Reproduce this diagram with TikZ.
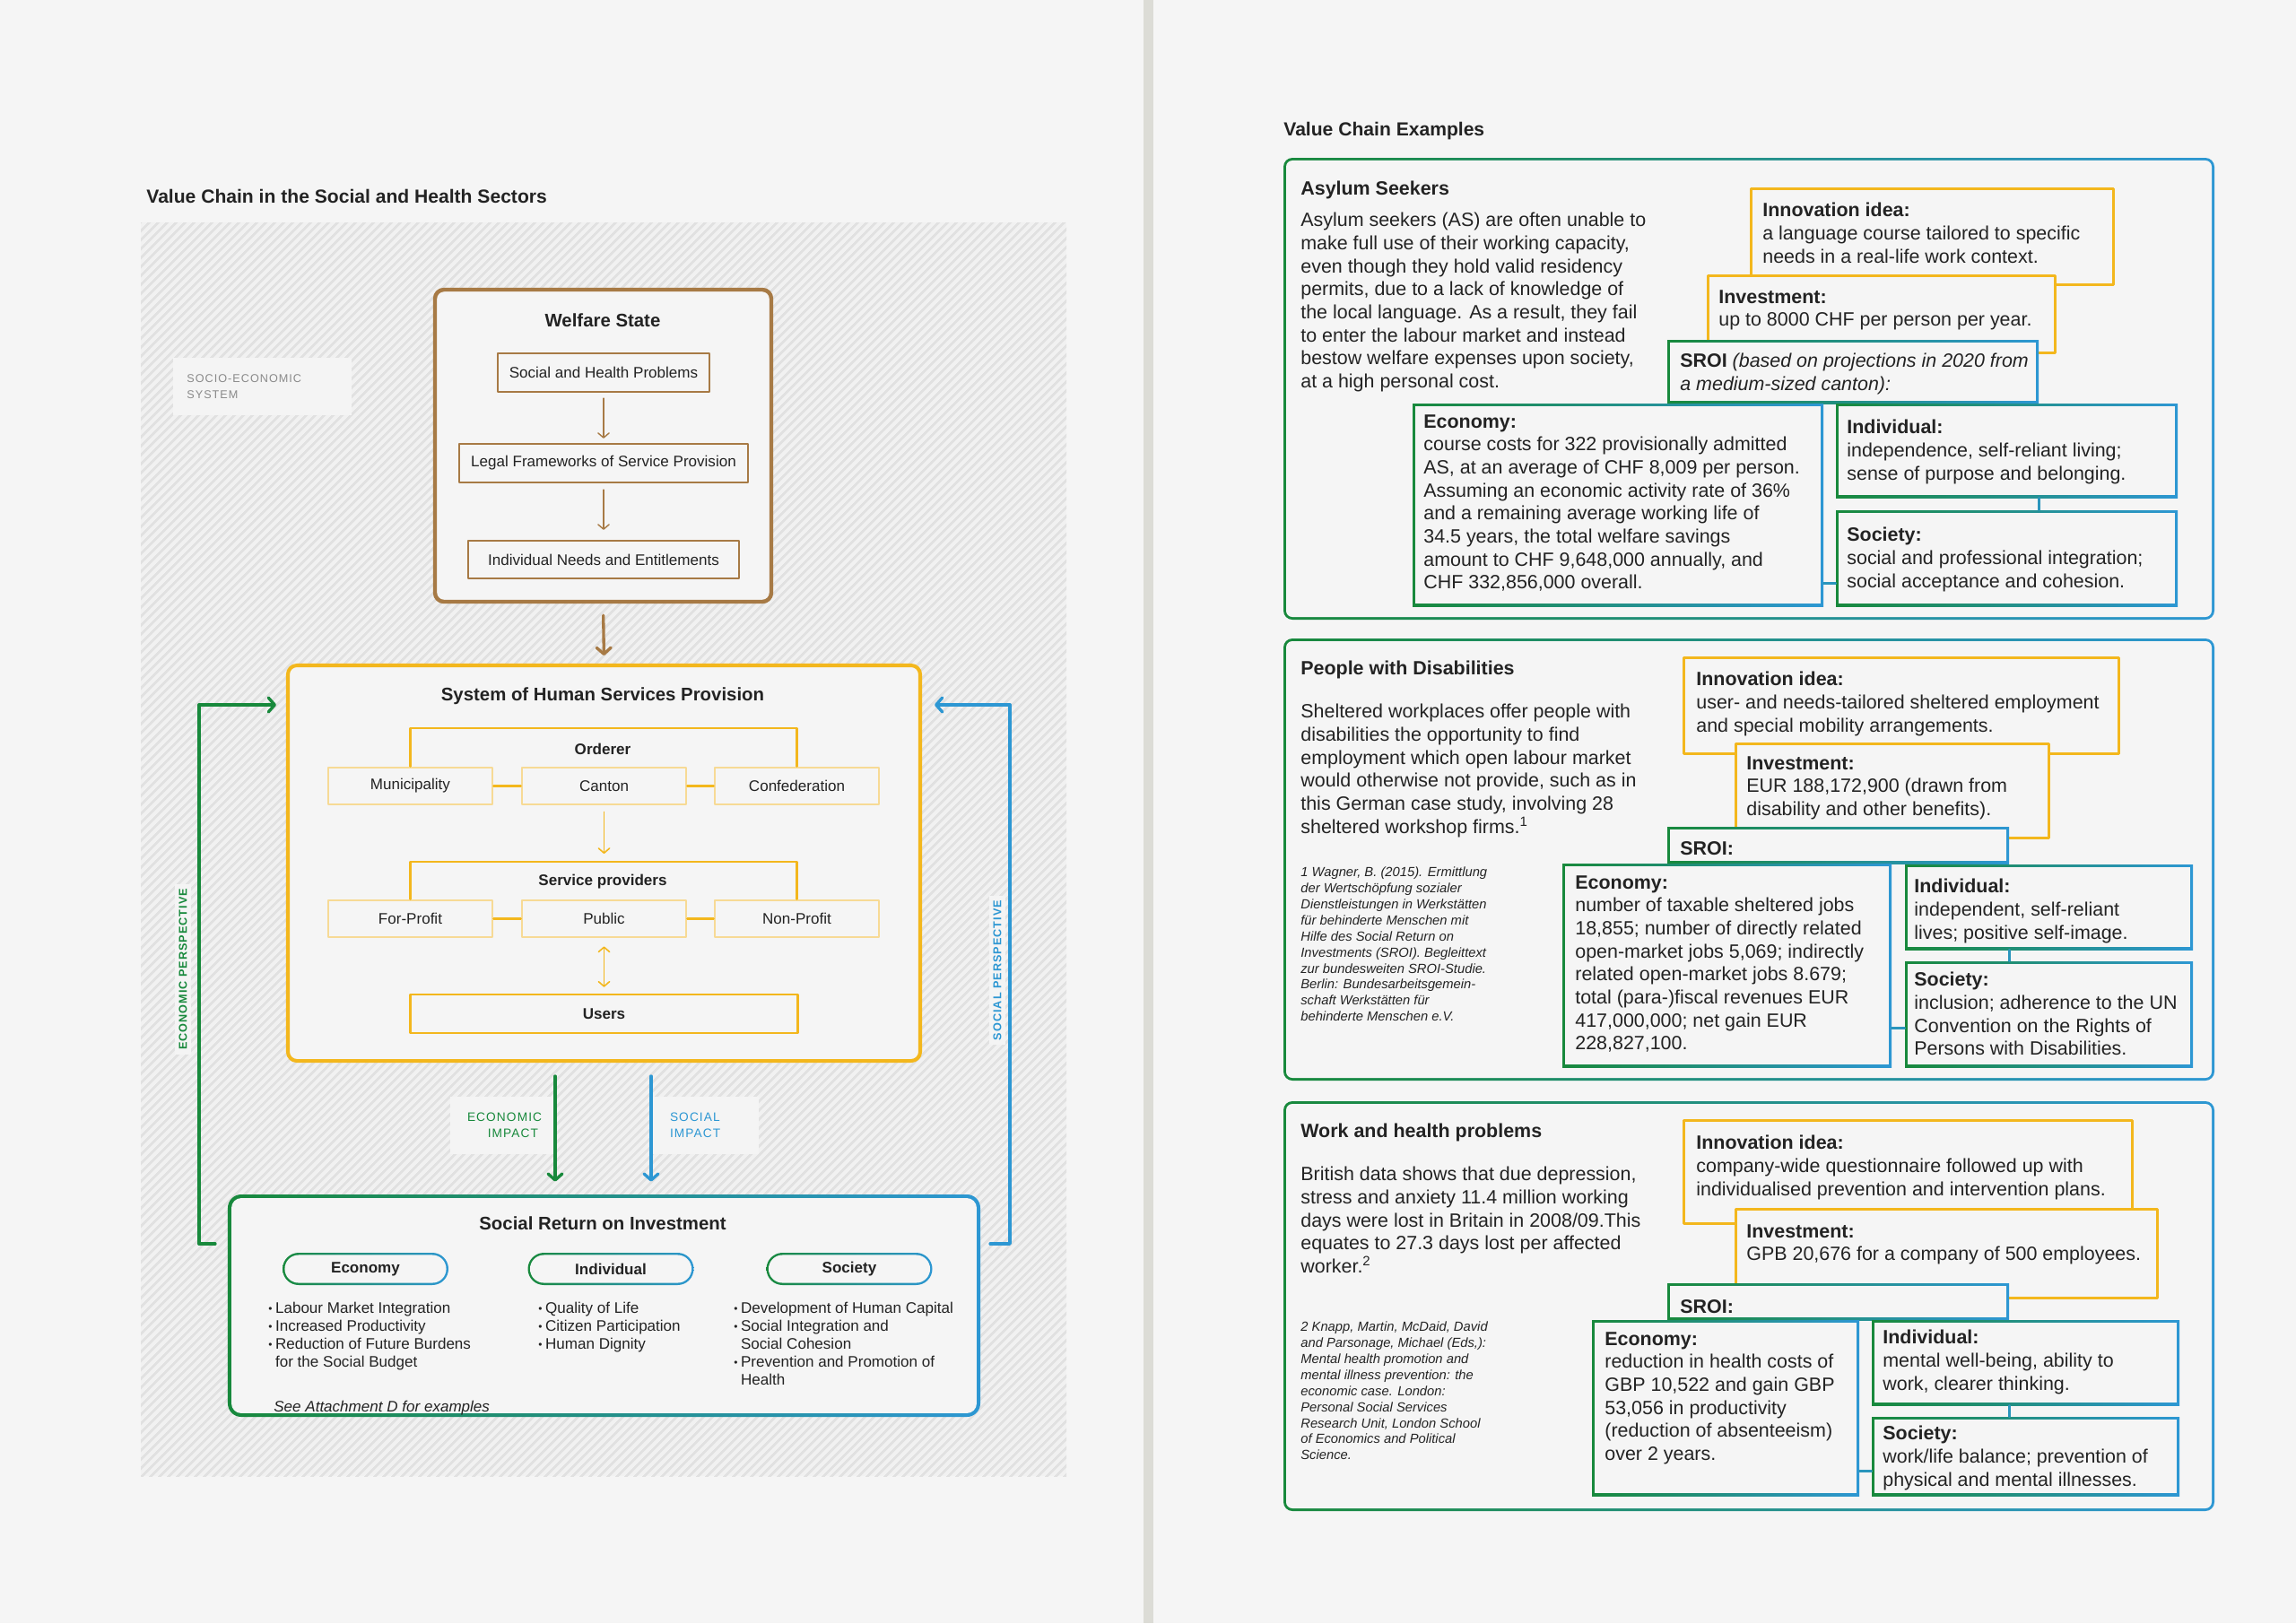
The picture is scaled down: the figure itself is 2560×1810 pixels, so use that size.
\documentclass[tikz,border=0pt]{standalone}
\usepackage{fontspec}
\setmainfont{Liberation Sans}
\newfontfamily\spacedfont[LetterSpace=8]{Liberation Sans}
\usetikzlibrary{arrows.meta,fit,patterns.meta}

\definecolor{paper}{HTML}{F5F5F5}
\definecolor{divider}{HTML}{DCDCD6}
\definecolor{hatchbg}{HTML}{F1F1F1}
\definecolor{hatchln}{HTML}{E1E1E1}
\definecolor{tagfill}{HTML}{F4F4F4}
\definecolor{ink}{HTML}{232323}
\definecolor{tagtext}{HTML}{8A8A8A}
\definecolor{wsbrown}{HTML}{A77A45}
\definecolor{hsyellow}{HTML}{F3B71D}
\definecolor{paleyellow}{HTML}{F7DA95}
\definecolor{ecogreen}{HTML}{18893C}
\definecolor{socblue}{HTML}{2D97D3}

% fonts
\newcommand{\vcBody}{\fontsize{12.2}{14.6}\selectfont}
\newcommand{\vcNote}{\fontsize{8.4}{10.2}\selectfont\itshape}
\newcommand{\vcSmall}{\fontsize{9.7}{11.4}\selectfont}
\newcommand{\vcHead}{\fontsize{11.6}{14}\selectfont\bfseries}
\newcommand{\vcPage}{\fontsize{12}{14}\selectfont\bfseries}
\newcommand{\vcTag}{\spacedfont\fontsize{7.2}{10.2}\selectfont}
\newcommand{\vcImp}{\spacedfont\fontsize{7.8}{10.2}\selectfont}
\newcommand{\vcPersp}{\spacedfont\bfseries\fontsize{7.2}{9}\selectfont}
\newcommand{\vcBul}{\makebox[4.4pt][l]{\raisebox{0.12ex}{\scalebox{0.7}{\textbullet}}}}
\newcommand{\vcGap}{\hspace*{4.4pt}}

\tikzset{
  page title/.style={anchor=base west, yshift=-1.7pt, inner sep=0pt, font=\vcPage, text=ink},
  box title/.style={inner sep=0pt, font=\vcHead, text=ink},
  sub title/.style={inner sep=0pt, font=\vcSmall\bfseries, text=ink},
  tagbox/.style={fill=tagfill, inner sep=0pt, font=\vcTag, text=tagtext},
  persptag/.style={fill=tagfill, rotate=90, inner xsep=1mm, inner ysep=1mm, font=\vcPersp},
  wsframe/.style={draw=wsbrown, line width=2.5pt, fill=paper, rounded corners=2mm},
  wsbox/.style={draw=wsbrown, line width=1.3pt, fill=paper, minimum height=8.6mm, inner sep=0pt, font=\vcSmall, text=ink},
  wsflow/.style={draw=wsbrown, line width=0.8pt, -{Straight Barb[round,length=3pt,width=7pt]}},
  mainflow/.style={line width=1.9pt, -{Straight Barb[round,length=4pt,width=9pt]}},
  hsframe/.style={draw=hsyellow, line width=2.3pt, fill=paper, rounded corners=2mm},
  pbox/.style={draw=paleyellow, line width=1.6pt, fill=paper, minimum width=36.6mm, minimum height=8.2mm, inner sep=0pt, font=\vcSmall, text=ink},
  ubox/.style={draw=hsyellow, line width=1.5pt, fill=paper, minimum width=86.4mm, minimum height=8.6mm, inner sep=0pt, font=\vcSmall\bfseries, text=ink},
  ybar/.style={draw=hsyellow, line width=1.4pt},
  yflow/.style={draw=hsyellow, line width=0.9pt, -{Straight Barb[round,length=3pt,width=7pt]}},
  persp line/.style={line width=1.9pt, -{Straight Barb[round,length=4pt,width=9pt]}},
  impact line/.style={line width=1.9pt, -{Straight Barb[round,length=4pt,width=9pt]}},
  sroiframe/.style={left color=ecogreen, right color=socblue, rounded corners=3mm, inner sep=0pt,
    path picture={\fill[paper, rounded corners=2.2mm]
      ([shift={(2.3pt,-2.3pt)}]path picture bounding box.north west) rectangle
      ([shift={(-2.3pt,2.3pt)}]path picture bounding box.south east);}},
  pill/.style={left color=ecogreen, right color=socblue, rounded corners=3.6mm, inner sep=0pt,
    minimum width=37mm, minimum height=7.2mm, font=\vcSmall\bfseries, text=ink,
    path picture={\fill[paper, rounded corners=3.1mm]
      ([shift={(1.4pt,-1.4pt)}]path picture bounding box.north west) rectangle
      ([shift={(-1.4pt,1.4pt)}]path picture bounding box.south east);}},
  % first baseline sits on the given point
  bullets/.style={anchor=north west, yshift=5.1pt, inner sep=0pt, align=left, font=\vcSmall, text=ink,
    execute at begin node=\strut},
  % example cases
  gcase/.style={left color=ecogreen, right color=socblue, rounded corners=2mm, inner sep=0pt,
    path picture={\fill[paper, rounded corners=1.4mm]
      ([shift={(1.7pt,-1.7pt)}]path picture bounding box.north west) rectangle
      ([shift={(-1.7pt,1.7pt)}]path picture bounding box.south east);}},
  gbox/.style={left color=ecogreen, right color=socblue, inner sep=0pt,
    path picture={\fill[paper]
      ([shift={(1.7pt,-1.7pt)}]path picture bounding box.north west) rectangle
      ([shift={(-1.7pt,1.7pt)}]path picture bounding box.south east);}},
  ybox/.style={draw=hsyellow, line width=1.7pt, fill=paper, inner sep=0pt},
  glink/.style={draw=socblue!85!ecogreen, line width=1.5pt},
  ex text/.style={anchor=north west, yshift=7.4pt, inner sep=0pt, align=left, font=\vcBody, text=ink,
    execute at begin node=\strut},
  ex head/.style={ex text, font=\vcBody\bfseries},
  ex note/.style={anchor=north west, yshift=4.3pt, inner sep=0pt, align=left, font=\vcNote, text=ink,
    execute at begin node=\strut},
}

\begin{document}
\begin{tikzpicture}[x=0.2mm,y=-0.2mm,line join=round,line cap=round]
  \useasboundingbox (0,0) rectangle (2560,1810);
  % Paper and fold
  \fill[paper] (0,0) rectangle (2560,1810);
  \fill[divider] (1275,0) rectangle (1286,1810);

  % ---------------- Left page ----------------
  \begin{scope}
    \node[page title] (chain-title) at (163,224) {Value Chain in the Social and Health Sectors};

    % Hatched socio-economic field
    \fill[hatchbg] (157,248) rectangle (1189,1646);
    \fill[pattern={Lines[angle=45,distance=4pt,line width=1.6pt]}, pattern color=hatchln] (157,248) rectangle (1189,1646);
    \node[tagbox, text width=33.8mm, minimum height=12.8mm, inner xsep=3mm, align=left, anchor=north west] (socio) at (193,399) {SOCIO-ECONOMIC\\SYSTEM};

    % Welfare state
    \node[wsframe, minimum width=75mm, minimum height=69.6mm] (welfare) at (672.5,497) {};
    \node[box title] (welfare-t) at (672,357) {Welfare State};
    \node[wsbox, minimum width=47.2mm] (problems) at (673,415.5) {Social and Health Problems};
    \node[wsbox, minimum width=64.4mm] (legal) at (673,516.5) {Legal Frameworks of Service Provision};
    \node[wsbox, minimum width=60.4mm, minimum height=8.4mm] (needs) at (673,624) {Individual Needs and Entitlements};
    \draw[wsflow, shorten <=1.2mm, shorten >=1mm] (problems.south) -- (legal.north);
    \draw[wsflow, shorten <=1.4mm, shorten >=2.2mm] (legal.south) -- (needs.north);

    % Human services provision
    \node[hsframe, minimum width=141mm, minimum height=88.2mm] (hsp) at (673.5,962.5) {};
    \draw[mainflow, wsbrown, shorten <=2.6mm, shorten >=1.8mm] (welfare.south) -- (hsp.north);
    \node[box title] (hsp-t) at (672,776) {System of Human Services Provision};

    % Orderer
    \foreach \nm/\tx/\cx in {muni/Municipality/457.5, canton/Canton/673.5, confed/Confederation/888.5}
      \node[pbox] (\nm) at (\cx,876.5) {\tx};
    \coordinate (order-top) at (673,812);
    \draw[ybar] (muni.north) |- (order-top) -| (confed.north);
    \draw[ybar] (muni) -- (canton) (canton) -- (confed);
    \node[sub title] (orderer) at (672,835) {Orderer};

    % Service providers
    \foreach \nm/\tx/\cx in {forprofit/For-Profit/457.5, public/Public/673.5, nonprofit/Non-Profit/888.5}
      \node[pbox] (\nm) at (\cx,1024.5) {\tx};
    \coordinate (provider-top) at (673.5,961);
    \draw[ybar] (forprofit.north) |- (provider-top) -| (nonprofit.north);
    \draw[ybar] (forprofit) -- (public) (public) -- (nonprofit);
    \node[sub title] (providers) at (672,983) {Service providers};
    \draw[yflow, shorten <=1.4mm, shorten >=1.8mm] (canton.south) -- (provider-top);

    \node[ubox] (users) at (673.5,1130.5) {Users};
    \draw[yflow, {Straight Barb[round,length=3pt,width=7pt]}-{Straight Barb[round,length=3pt,width=7pt]}, shorten <=1.8mm, shorten >=1.4mm] (public.south) -- (users.north);

    % Perspectives
    \node[persptag, text=ecogreen] (eco-persp) at (204,1081) {ECONOMIC PERSPECTIVE};
    \node[persptag, text=socblue] (soc-persp) at (1112,1082) {SOCIAL PERSPECTIVE};
    \coordinate (eco-from) at (240,1387); \coordinate (eco-bend) at (222,786); \coordinate (eco-to) at (308,786);
    \coordinate (soc-from) at (1104,1387); \coordinate (soc-bend) at (1126,786); \coordinate (soc-to) at (1042,786);
    \draw[persp line, ecogreen] (eco-from) -| (eco-bend) -- (eco-to);
    \draw[persp line, socblue] (soc-from) -| (soc-bend) -- (soc-to);

    % Impacts
    \node[tagbox, font=\vcImp, text=ecogreen, text width=15.8mm, inner xsep=3.8mm, minimum height=12.8mm, align=right] (eco-impact) at (560.5,1255) {ECONOMIC\\IMPACT};
    \node[tagbox, font=\vcImp, text=socblue, text width=15.6mm, inner xsep=4.2mm, minimum height=12.8mm, align=left] (soc-impact) at (786,1255) {SOCIAL\\IMPACT};

    % Social return on investment
    \node[sroiframe, minimum width=167.8mm, minimum height=49.6mm] (sroi) at (673.5,1456) {};
    \draw[impact line, ecogreen, shorten <=3mm, shorten >=2.8mm] ([xshift=-10.9mm]hsp.south) -- ([xshift=-10.9mm]sroi.north);
    \draw[impact line, socblue, shorten <=3mm, shorten >=2.8mm] ([xshift=10.5mm]hsp.south) -- ([xshift=10.5mm]sroi.north);
    \node[box title] (sroi-t) at (672,1364) {Social Return on Investment};
    \foreach \nm/\tx/\cx in {pill-eco/Economy/407.5, pill-ind/Individual/681, pill-soc/Society/947}
      \node[pill] (\nm) at (\cx,1415) {\tx};
    \node[bullets] (eco-list) at (299,1461) {\vcBul Labour Market Integration\\\vcBul Increased Productivity\\\vcBul Reduction of Future Burdens\\\vcGap for the Social Budget};
    \node[bullets] (ind-list) at (600,1461) {\vcBul Quality of Life\\\vcBul Citizen Participation\\\vcBul Human Dignity};
    \node[bullets] (soc-list) at (818,1461) {\vcBul Development of Human Capital\\\vcBul Social Integration and\\\vcGap Social Cohesion\\\vcBul Prevention and Promotion of\\\vcGap Health};
    \node[bullets, font=\vcSmall\itshape] (attach) at (305,1569) {See Attachment D for examples};
  \end{scope}

  % ---------------- Right page ----------------
  \node[page title] (examples-title) at (1431,149) {Value Chain Examples};

  % Asylum seekers
  \begin{scope}
    \node[gcase, fit={(1431,176) (2469,691)}] (asylum) {};
    \foreach \nm/\sty/\ax/\ay/\bx/\by in {as-inno/ybox/1952/210/2356/317, as-inv/ybox/1904/307/2291/393,
        as-sroi/gbox/1859/379/2273/450, as-eco/gbox/1575/450/2033/676,
        as-ind/gbox/2047/450/2428/555, as-soc/gbox/2047/569/2428/676}
      \node[\sty, fit={(\ax,\ay) (\bx,\by)}] (\nm) {};
    \draw[glink] (as-ind.south -| as-sroi.east) -- (as-soc.north -| as-sroi.east);
    \draw[glink] ([yshift=5.2mm]as-eco.south east) -- ([yshift=5.2mm]as-soc.south west);

    \node[ex head] (as-head) at (1450,212) {Asylum Seekers};
    \node[ex text] (as-text) at (1450,250) {Asylum seekers (AS) are often unable to\\make full use of their working capacity,\\even though they hold valid residency\\permits, due to a lack of knowledge of\\the local language. As a result, they fail\\to enter the labour market and instead\\bestow welfare expenses upon society,\\at a high personal cost.};
    \node[ex text] (as-inno-t) at (1965,239) {\textbf{Innovation idea:}\\a language course tailored to specific\\needs in a real-life work context.};
    \node[ex text] (as-inv-t) at (1916,336) {\textbf{Investment:}\\up to 8000 CHF per person per year.};
    \node[ex text] (as-sroi-t) at (1873,407) {\textbf{SROI} \textit{(based on projections in 2020 from}\\\textit{a medium-sized canton):}};
    \node[ex text] (as-eco-t) at (1587,475) {\textbf{Economy:}\\course costs for 322 provisionally admitted\\AS, at an average of CHF 8,009 per person.\\Assuming an economic activity rate of 36\%\\and a remaining average working life of\\34.5 years, the total welfare savings\\amount to CHF 9,648,000 annually, and\\CHF 332,856,000 overall.};
    \node[ex text] (as-ind-t) at (2059,481) {\textbf{Individual:}\\independence, self-reliant living;\\sense of purpose and belonging.};
    \node[ex text] (as-soc-t) at (2059,601) {\textbf{Society:}\\social and professional integration;\\social acceptance and cohesion.};
  \end{scope}

  % People with disabilities
  \begin{scope}
    \node[gcase, fit={(1431,712) (2469,1205)}] (disability) {};
    \foreach \nm/\sty/\ax/\ay/\bx/\by in {pd-inno/ybox/1877/733/2362/840, pd-inv/ybox/1935/829/2284/934,
        pd-sroi/gbox/1859/922/2240/963, pd-eco/gbox/1742/963/2109/1190,
        pd-ind/gbox/2124/964/2445/1059, pd-soc/gbox/2124/1072/2445/1190}
      \node[\sty, fit={(\ax,\ay) (\bx,\by)}] (\nm) {};
    \draw[glink] (pd-ind.south -| pd-sroi.east) -- (pd-soc.north -| pd-sroi.east);
    \draw[glink] ([yshift=8.8mm]pd-eco.south east) -- ([yshift=8.8mm]pd-soc.south west);

    \node[ex head] (pd-head) at (1450,747) {People with Disabilities};
    \node[ex text] (pd-text) at (1450,798) {Sheltered workplaces offer people with\\disabilities the opportunity to find\\employment which open labour market\\would otherwise not provide, such as in\\this German case study, involving 28\\sheltered workshop firms.\textsuperscript{1}};
    \node[ex note] (pd-note) at (1450,974) {1 Wagner, B. (2015). Ermittlung\\der Wertschöpfung sozialer\\Dienstleistungen in Werkstätten\\für behinderte Menschen mit\\Hilfe des Social Return on\\Investments (SROI). Begleittext\\zur bundesweiten SROI-Studie.\\Berlin: Bundesarbeitsgemein-\\schaft Werkstätten für\\behinderte Menschen e.V.};
    \node[ex text] (pd-inno-t) at (1891,762) {\textbf{Innovation idea:}\\user- and needs-tailored sheltered employment\\and special mobility arrangements.};
    \node[ex text] (pd-inv-t) at (1947,856) {\textbf{Investment:}\\EUR 188,172,900 (drawn from\\disability and other benefits).};
    \node[ex text] (pd-sroi-t) at (1873,948) {\textbf{SROI:}};
    \node[ex text] (pd-eco-t) at (1756,989) {\textbf{Economy:}\\number of taxable sheltered jobs\\18,855; number of directly related\\open-market jobs 5,069; indirectly\\related open-market jobs 8.679;\\total (para-)fiscal revenues EUR\\417,000,000; net gain EUR\\228,827,100.};
    \node[ex text] (pd-ind-t) at (2134,993) {\textbf{Individual:}\\independent, self-reliant\\lives; positive self-image.};
    \node[ex text] (pd-soc-t) at (2134,1097) {\textbf{Society:}\\inclusion; adherence to the UN\\Convention on the Rights of\\Persons with Disabilities.};
  \end{scope}

  % Work and health problems
  \begin{scope}
    \node[gcase, fit={(1431,1228) (2469,1685)}] (workhealth) {};
    \foreach \nm/\sty/\ax/\ay/\bx/\by in {wh-inno/ybox/1877/1249/2377/1364, wh-inv/ybox/1935/1348/2405/1447,
        wh-sroi/gbox/1859/1431/2240/1472, wh-eco/gbox/1775/1472/2073/1668,
        wh-ind/gbox/2087/1472/2430/1567, wh-soc/gbox/2087/1580/2430/1668}
      \node[\sty, fit={(\ax,\ay) (\bx,\by)}] (\nm) {};
    \draw[glink] (wh-ind.south -| wh-sroi.east) -- (wh-soc.north -| wh-sroi.east);
    \draw[glink] ([yshift=5.6mm]wh-eco.south east) -- ([yshift=5.6mm]wh-soc.south west);

    \node[ex head] (wh-head) at (1450,1263) {Work and health problems};
    \node[ex text] (wh-text) at (1450,1314) {British data shows that due depression,\\stress and anxiety 11.4 million working\\days were lost in Britain in 2008/09.This\\equates to 27.3 days lost per affected\\worker.\textsuperscript{2}};
    \node[ex note] (wh-note) at (1450,1481) {2 Knapp, Martin, McDaid, David\\and Parsonage, Michael (Eds,):\\Mental health promotion and\\mental illness prevention: the\\economic case. London:\\Personal Social Services\\Research Unit, London School\\of Economics and Political\\Science.};
    \node[ex text] (wh-inno-t) at (1891,1279) {\textbf{Innovation idea:}\\company-wide questionnaire followed up with\\individualised prevention and intervention plans.};
    \node[ex text] (wh-inv-t) at (1947,1378) {\textbf{Investment:}\\GPB 20,676 for a company of 500 employees.};
    \node[ex text] (wh-sroi-t) at (1873,1459) {\textbf{SROI:}};
    \node[ex text] (wh-eco-t) at (1789,1498) {\textbf{Economy:}\\reduction in health costs of\\GBP 10,522 and gain GBP\\53,056 in productivity\\(reduction of absenteeism)\\over 2 years.};
    \node[ex text] (wh-ind-t) at (2099,1496) {\textbf{Individual:}\\mental well-being, ability to\\work, clearer thinking.};
    \node[ex text] (wh-soc-t) at (2099,1603) {\textbf{Society:}\\work/life balance; prevention of\\physical and mental illnesses.};
  \end{scope}
\end{tikzpicture}
\end{document}
